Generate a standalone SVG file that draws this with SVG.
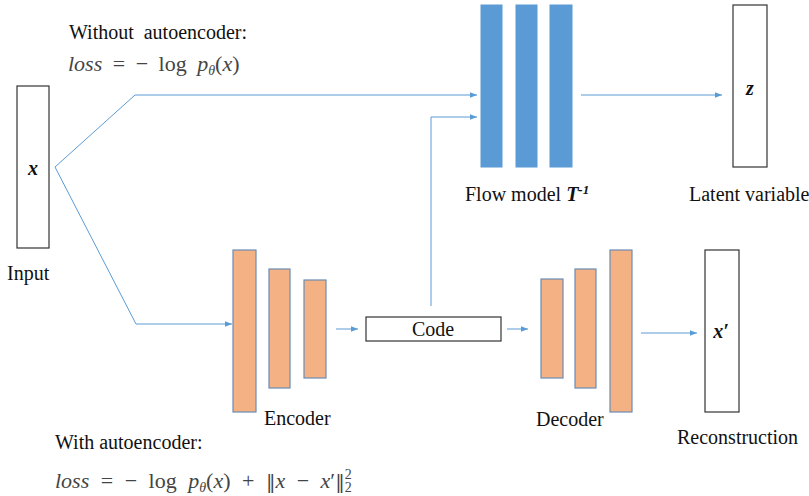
<svg xmlns="http://www.w3.org/2000/svg" width="809" height="496" viewBox="0 0 809 496">
<defs>
<marker id="ah" viewBox="0 0 10 10" refX="10" refY="5" markerWidth="7" markerHeight="7" markerUnits="userSpaceOnUse" orient="auto">
<path d="M0,1 L10,5 L0,9 z" fill="#5B9BD5"/>
</marker>
<style>
.t{font-family:"Liberation Serif","Times New Roman",serif;font-size:20px;fill:#111}
.m{font-family:"Liberation Serif","Times New Roman",serif;font-size:22px;fill:#444}
.i{font-style:italic}
.bi{font-style:italic;font-weight:bold}
.nm{font-family:"DejaVu Serif",serif;font-size:19px}
.box{fill:#fff;stroke:#333;stroke-width:1.2}
.flow{fill:#5B9BD5;stroke:#5B9BD5;stroke-width:1}
.org{fill:#F4B183;stroke:#6A8DB5;stroke-width:1.2}
.c{fill:none;stroke:#5B9BD5;stroke-width:1}
</style>
</defs>
<rect width="809" height="496" fill="#fff"/>

<g id="labels">
<text class="t" x="69" y="39">Without&#160; autoencoder:</text>
<text class="m" x="68" y="71" word-spacing="5"><tspan class="i">loss</tspan> = − log <tspan class="i">p</tspan><tspan class="i" font-size="14" dy="4">θ</tspan><tspan dy="-4">(</tspan><tspan class="i">x</tspan>)</text>
<text class="t" x="55" y="449">With autoencoder:</text>
<text class="m" x="55" y="488" word-spacing="6"><tspan class="i">loss</tspan> = − log <tspan class="i">p</tspan><tspan class="i" font-size="14" dy="4">θ</tspan><tspan dy="-4">(</tspan><tspan class="i">x</tspan>) + <tspan class="nm">‖</tspan><tspan class="i">x</tspan> − <tspan class="i">x</tspan>′<tspan class="nm">‖</tspan><tspan font-size="14" dy="-9">2</tspan><tspan font-size="14" dx="-7" dy="13">2</tspan></text>
</g>

<g id="input">
<rect class="box" x="17" y="86" width="32" height="162"/>
<text class="t bi" x="33" y="175" text-anchor="middle">x</text>
<text class="t" x="7" y="280">Input</text>
</g>

<g id="flow-model">
<rect class="flow" x="481" y="5" width="21" height="162"/>
<rect class="flow" x="516" y="5" width="21" height="162"/>
<rect class="flow" x="550" y="5" width="22" height="162"/>
<text class="t" x="465" y="201">Flow model <tspan class="bi">T</tspan><tspan class="bi" font-size="13" dy="-7">-1</tspan></text>
</g>

<g id="latent">
<rect class="box" x="733" y="5" width="34" height="162"/>
<text class="t bi" x="750" y="95" text-anchor="middle">z</text>
<text class="t" x="689" y="201">Latent variable</text>
</g>

<g id="encoder">
<rect class="org" x="233" y="250" width="23" height="162"/>
<rect class="org" x="269" y="269" width="21" height="119"/>
<rect class="org" x="304" y="280" width="22" height="98"/>
<text class="t" x="264" y="425">Encoder</text>
</g>

<g id="code">
<rect class="box" x="366" y="317" width="135" height="24"/>
<text class="t" x="433" y="336" text-anchor="middle">Code</text>
</g>

<g id="decoder">
<rect class="org" x="541" y="279" width="22" height="99"/>
<rect class="org" x="575" y="269" width="21" height="119"/>
<rect class="org" x="610" y="250" width="22" height="162"/>
<text class="t" x="536" y="426">Decoder</text>
</g>

<g id="reconstruction">
<rect class="box" x="705" y="250" width="34" height="162"/>
<text class="t bi" x="721" y="338" text-anchor="middle">x′</text>
<text class="t" x="677" y="444">Reconstruction</text>
</g>

<g id="connectors">
<polyline class="c" points="55,167 135,95 477,95" marker-end="url(#ah)"/>
<polyline class="c" points="55,167 136,324 232,324" marker-end="url(#ah)"/>
<polyline class="c" points="431,306 431,117 477,117" marker-end="url(#ah)"/>
<line class="c" x1="581" y1="95" x2="722" y2="95" marker-end="url(#ah)"/>
<line class="c" x1="336" y1="329" x2="358" y2="329" marker-end="url(#ah)"/>
<line class="c" x1="507" y1="329" x2="528" y2="329" marker-end="url(#ah)"/>
<line class="c" x1="641" y1="333" x2="697" y2="333" marker-end="url(#ah)"/>
</g>
</svg>
